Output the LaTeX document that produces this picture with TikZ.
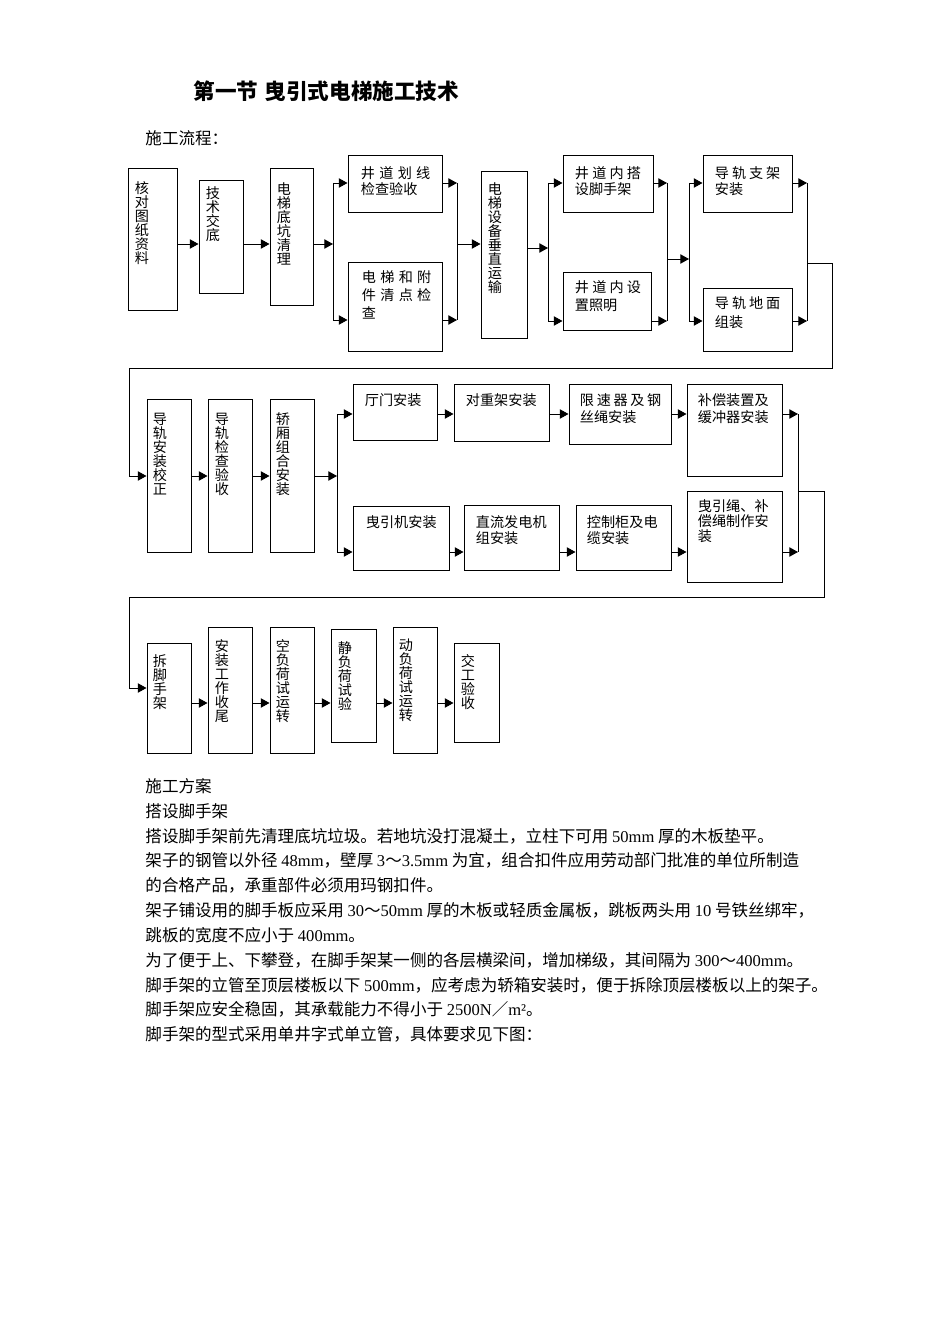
\documentclass[tikz,border=0pt]{standalone}
\usepackage{fontspec}
\setmainfont{Liberation Serif}
\newfontfamily\cjk{Noto Sans CJK SC}
\usetikzlibrary{arrows.meta}
\newcommand\lat[1]{{\rmfamily #1}}
\newcommand\spr[2][52pt]{\makebox[#1][s]{#2}}

\begin{document}
\begin{tikzpicture}[x=0.75pt,y=-0.75pt,line width=0.7pt,
  box/.style 2 args={draw,line width=0.75pt,inner sep=0pt,minimum width=#1*0.75pt,minimum height=#2*0.75pt},
  vtxt/.style={anchor=north west,inner sep=0pt,align=left,font=\cjk\fontsize{10.6pt}{10.5pt}\selectfont},
  htxt/.style={anchor=north west,inner sep=0pt,align=left,font=\cjk\fontsize{10.6pt}{#1}\selectfont},
  htxt/.default=12pt,
  body/.style={anchor=base west,inner sep=0pt,font=\cjk\fontsize{12.4pt}{15pt}\selectfont},
  arr/.style={-{Triangle[length=6.5pt,width=7pt]}}]
  \useasboundingbox (0,0) rectangle (950,1344);

  \node[anchor=base west,inner sep=0pt,font=\cjk\bfseries\fontsize{16.2pt}{18pt}\selectfont] (title) at (193,100) {第一节\hspace{0.3em}曳引式电梯施工技术};
  \node[body] (liucheng) at (145,145) {施工流程：};

  % first row
  \node[box={49}{142}] (hedui) at (152.5,240) {};
  \node[box={44}{113}] (jishu) at (221,237.5) {};
  \node[box={43}{137}] (diken) at (291.5,237.5) {};
  \node[box={94}{57}] (huaxian) at (395,184.5) {};
  \node[box={94}{88}] (qingdian) at (395,307) {};
  \node[box={46}{166}] (yunshu) at (504,255) {};
  \node[box={90}{57}] (dajia) at (608,184.5) {};
  \node[box={88}{57}] (zhaoming) at (607,301.5) {};
  \node[box={89}{57}] (zhijia) at (747.5,184.5) {};
  \node[box={89}{62}] (zuzhuang) at (747.5,320) {};

  \node[vtxt] (hedui-t) at ([shift={(7,13)}]hedui.north west) {核\\对\\图\\纸\\资\\料};
  \node[vtxt] (jishu-t) at ([shift={(7,6)}]jishu.north west) {技\\术\\交\\底};
  \node[vtxt] (diken-t) at ([shift={(7,14)}]diken.north west) {电\\梯\\底\\坑\\清\\理};
  \node[htxt] (huaxian-t) at ([shift={(13,11)}]huaxian.north west) {\spr{井\hfill 道\hfill 划\hfill 线}\\检查验收};
  \node[htxt=13.5pt] (qingdian-t) at ([shift={(14,8)}]qingdian.north west) {\spr{电\hfill 梯\hfill 和\hfill 附}\\\spr{件\hfill 清\hfill 点\hfill 检}\\查};
  \node[vtxt] (yunshu-t) at ([shift={(7,11)}]yunshu.north west) {电\\梯\\设\\备\\垂\\直\\运\\输};
  \node[htxt] (dajia-t) at ([shift={(12,11)}]dajia.north west) {\spr[49.5pt]{井\hfill 道\hfill 内\hfill 搭}\\设脚手架};
  \node[htxt=13.5pt] (zhaoming-t) at ([shift={(12,8)}]zhaoming.north west) {\spr[49.5pt]{井\hfill 道\hfill 内\hfill 设}\\置照明};
  \node[htxt] (zhijia-t) at ([shift={(12,11)}]zhijia.north west) {\spr[49pt]{导\hfill 轨\hfill 支\hfill 架}\\安装};
  \node[htxt=14pt] (zuzhuang-t) at ([shift={(12,8)}]zuzhuang.north west) {\spr[49pt]{导\hfill 轨\hfill 地\hfill 面}\\组装};

  \coordinate (r1) at (0,244);
  \coordinate (r2) at (0,248);
  \coordinate (j2) at (667,259);
  \coordinate (s1a) at (333,183);
  \coordinate (s1b) at (333,320);
  \coordinate (m1a) at (457,183);
  \coordinate (m1b) at (457,320);
  \coordinate (s2a) at (548,183);
  \coordinate (s2b) at (548,321);
  \coordinate (m2a) at (667,183);
  \coordinate (m2b) at (667,321);
  \coordinate (s3a) at (689,183);
  \coordinate (s3b) at (689,321);
  \coordinate (m3a) at (807,183);
  \coordinate (m3b) at (807,321);

  \draw[arr] (hedui.east |- r1) -- (jishu.west |- r1);
  \draw[arr] (jishu.east |- r1) -- (diken.west |- r1);
  \draw[arr] (diken.east |- r1) -- (s1a |- r1);
  \draw (s1a) -- (s1b);
  \draw[arr] (s1a) -- (huaxian.west |- s1a);
  \draw[arr] (s1b) -- (qingdian.west |- s1b);
  \draw[arr] (huaxian.east |- m1a) -- (m1a);
  \draw[arr] (qingdian.east |- m1b) -- (m1b);
  \draw (m1a) -- (m1b);
  \draw[arr] (m1a |- r1) -- (yunshu.west |- r1);
  \draw[arr] (yunshu.east |- r2) -- (s2a |- r2);
  \draw (s2a) -- (s2b);
  \draw[arr] (s2a) -- (dajia.west |- s2a);
  \draw[arr] (s2b) -- (zhaoming.west |- s2b);
  \draw[arr] (dajia.east |- m2a) -- (m2a);
  \draw[arr] (zhaoming.east |- m2b) -- (m2b);
  \draw (m2a) -- (m2b);
  \draw[arr] (j2) -- (s3a |- j2);
  \draw (s3a) -- (s3b);
  \draw[arr] (s3a) -- (zhijia.west |- s3a);
  \draw[arr] (s3b) -- (zuzhuang.west |- s3b);
  \draw[arr] (zhijia.east |- m3a) -- (m3a);
  \draw[arr] (zuzhuang.east |- m3b) -- (m3b);
  \draw (m3a) -- (m3b);

  % second row
  \node[box={44}{153}] (jiaozheng) at (169,475.5) {};
  \node[box={44}{153}] (jianyan) at (230,475.5) {};
  \node[box={44}{153}] (jiaoxiang) at (292,475.5) {};
  \node[box={84}{56}] (tingmen) at (395,412) {};
  \node[box={95}{57}] (duizhong) at (501.5,412.5) {};
  \node[box={102}{60}] (xiansu) at (620,414) {};
  \node[box={95}{92}] (buchang) at (734.5,430) {};
  \node[box={96}{64}] (yinji) at (401,538) {};
  \node[box={95}{65}] (fadian) at (511.5,537.5) {};
  \node[box={95}{65}] (kongzhi) at (623.5,537.5) {};
  \node[box={95}{91}] (yinsheng) at (734.5,536.5) {};

  \node[vtxt] (jiaozheng-t) at ([shift={(6,14)}]jiaozheng.north west) {导\\轨\\安\\装\\校\\正};
  \node[vtxt] (jianyan-t) at ([shift={(7,14)}]jianyan.north west) {导\\轨\\检\\查\\验\\收};
  \node[vtxt] (jiaoxiang-t) at ([shift={(6,14)}]jiaoxiang.north west) {轿\\厢\\组\\合\\安\\装};
  \node[htxt] (tingmen-t) at ([shift={(12,10)}]tingmen.north west) {厅门安装};
  \node[htxt] (duizhong-t) at ([shift={(12,10)}]duizhong.north west) {对重架安装};
  \node[htxt=12.75pt] (xiansu-t) at ([shift={(11,10)}]xiansu.north west) {\spr[61pt]{限\hfill 速\hfill 器\hfill 及\hfill 钢}\\丝绳安装};
  \node[htxt=12.75pt] (buchang-t) at ([shift={(11,10)}]buchang.north west) {补偿装置及\\缓冲器安装};
  \node[htxt] (yinji-t) at ([shift={(13,10)}]yinji.north west) {曳引机安装};
  \node[htxt] (fadian-t) at ([shift={(12,11)}]fadian.north west) {直流发电机\\组安装};
  \node[htxt] (kongzhi-t) at ([shift={(11,11)}]kongzhi.north west) {控制柜及电\\缆安装};
  \node[htxt=11pt] (yinsheng-t) at ([shift={(11,9)}]yinsheng.north west) {曳引绳、补\\偿绳制作安\\装};

  \coordinate (r3) at (0,476);
  \coordinate (r4) at (0,414);
  \coordinate (r5) at (0,552);
  \coordinate (s4a) at (337,414);
  \coordinate (s4b) at (337,552);
  \coordinate (m4a) at (798,414);
  \coordinate (m4b) at (798,552);
  \coordinate (back1a) at (807,263);
  \coordinate (back1b) at (832,368);
  \coordinate (back1c) at (129,368);

  \draw[arr] (back1a) -- (back1b |- back1a) -- (back1b) -- (back1c) -- (back1c |- r3) -- (jiaozheng.west |- r3);
  \draw[arr] (jiaozheng.east |- r3) -- (jianyan.west |- r3);
  \draw[arr] (jianyan.east |- r3) -- (jiaoxiang.west |- r3);
  \draw[arr] (jiaoxiang.east |- r3) -- (s4a |- r3);
  \draw (s4a) -- (s4b);
  \draw[arr] (s4a) -- (tingmen.west |- r4);
  \draw[arr] (tingmen.east |- r4) -- (duizhong.west |- r4);
  \draw[arr] (duizhong.east |- r4) -- (xiansu.west |- r4);
  \draw[arr] (xiansu.east |- r4) -- (buchang.west |- r4);
  \draw[arr] (buchang.east |- r4) -- (m4a);
  \draw[arr] (s4b) -- (yinji.west |- r5);
  \draw[arr] (yinji.east |- r5) -- (fadian.west |- r5);
  \draw[arr] (fadian.east |- r5) -- (kongzhi.west |- r5);
  \draw[arr] (kongzhi.east |- r5) -- (yinsheng.west |- r5);
  \draw[arr] (yinsheng.east |- r5) -- (m4b);
  \draw (m4a) -- (m4b);

  % third row
  \node[box={44}{110}] (chaijia) at (169,698) {};
  \node[box={44}{126}] (shouwei) at (230,690) {};
  \node[box={44}{126}] (kongzai) at (292,690) {};
  \node[box={45}{113}] (jingzai) at (353.5,685.5) {};
  \node[box={44}{126}] (dongzai) at (415,690) {};
  \node[box={45}{99}] (jiaogong) at (476.5,692.5) {};

  \node[vtxt] (chaijia-t) at ([shift={(6,12)}]chaijia.north west) {拆\\脚\\手\\架};
  \node[vtxt] (shouwei-t) at ([shift={(7,13)}]shouwei.north west) {安\\装\\工\\作\\收\\尾};
  \node[vtxt] (kongzai-t) at ([shift={(6,13)}]kongzai.north west) {空\\负\\荷\\试\\运\\转};
  \node[vtxt] (jingzai-t) at ([shift={(7,13)}]jingzai.north west) {静\\负\\荷\\试\\验};
  \node[vtxt] (dongzai-t) at ([shift={(6,12)}]dongzai.north west) {动\\负\\荷\\试\\运\\转};
  \node[vtxt] (jiaogong-t) at ([shift={(7,12)}]jiaogong.north west) {交\\工\\验\\收};

  \coordinate (r6) at (0,703);
  \coordinate (back2a) at (798,491);
  \coordinate (back2b) at (824,597);
  \coordinate (back2c) at (129,597);
  \coordinate (r7) at (0,688);

  \draw[arr] (back2a) -- (back2b |- back2a) -- (back2b) -- (back2c) -- (back2c |- r7) -- (chaijia.west |- r7);
  \draw[arr] (chaijia.east |- r6) -- (shouwei.west |- r6);
  \draw[arr] (shouwei.east |- r6) -- (kongzai.west |- r6);
  \draw[arr] (kongzai.east |- r6) -- (jingzai.west |- r6);
  \draw[arr] (jingzai.east |- r6) -- (dongzai.west |- r6);
  \draw[arr] (dongzai.east |- r6) -- (jiaogong.west |- r6);

  % text below
  \node[body] (p1) at (145,792) {施工方案};
  \node[body] (p2) at (145,817) {搭设脚手架};
  \node[body] (p3) at (145,842) {搭设脚手架前先清理底坑垃圾。若地坑没打混凝土，立柱下可用 \lat{50mm} 厚的木板垫平。};
  \node[body] (p4) at (145,866) {架子的钢管以外径 \lat{48mm}，壁厚 \lat{3}～\lat{3.5mm} 为宜，组合扣件应用劳动部门批准的单位所制造};
  \node[body] (p5) at (145,891) {的合格产品，承重部件必须用玛钢扣件。};
  \node[body] (p6) at (145,916) {架子铺设用的脚手板应采用 \lat{30}～\lat{50mm} 厚的木板或轻质金属板，跳板两头用 \lat{10} 号铁丝绑牢，};
  \node[body] (p7) at (145,941) {跳板的宽度不应小于 \lat{400mm}。};
  \node[body] (p8) at (145,966) {为了便于上、下攀登，在脚手架某一侧的各层横梁间，增加梯级，其间隔为 \lat{300}～\lat{400mm}。};
  \node[body] (p9) at (145,991) {脚手架的立管至顶层楼板以下 \lat{500mm}，应考虑为轿箱安装时，便于拆除顶层楼板以上的架子。};
  \node[body] (p10) at (145,1015) {脚手架应安全稳固，其承载能力不得小于 \lat{2500N}／\lat{m²}。};
  \node[body] (p11) at (145,1040) {脚手架的型式采用单井字式单立管，具体要求见下图：};
\end{tikzpicture}
\end{document}
